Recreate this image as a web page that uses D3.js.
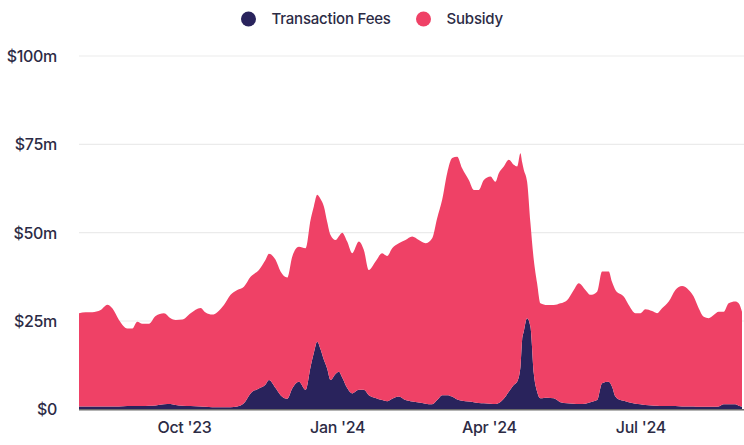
<!DOCTYPE html>
<html>
<head>
<meta charset="utf-8">
<script src="https://cdn.jsdelivr.net/npm/d3@7"></script>
<style>
  html, body { margin: 0; padding: 0; background: #fff; }
  svg { display: block; }
  text { font-family: Inter, "Noto Sans", sans-serif; fill: #2c2b45; }
</style>
</head>
<body>
<svg id="chart" width="744" height="445"></svg>
<script>
const dates = ["2023-07-30","2023-08-03","2023-08-07","2023-08-12","2023-08-16","2023-08-19","2023-08-23","2023-08-28","2023-08-31",
"2023-09-03","2023-09-06","2023-09-10","2023-09-14","2023-09-19","2023-09-23","2023-09-26","2023-09-30",
"2023-10-05","2023-10-11","2023-10-14","2023-10-18","2023-10-21","2023-10-25","2023-10-29",
"2023-11-02","2023-11-06","2023-11-10","2023-11-15","2023-11-19","2023-11-21","2023-11-25","2023-11-28",
"2023-12-02","2023-12-05","2023-12-09","2023-12-13","2023-12-16","2023-12-18","2023-12-20","2023-12-22","2023-12-24","2023-12-26","2023-12-28","2023-12-31",
"2024-01-02","2024-01-04","2024-01-07","2024-01-10","2024-01-14","2024-01-17","2024-01-20","2024-01-24","2024-01-28","2024-01-31",
"2024-02-03","2024-02-07","2024-02-11","2024-02-15","2024-02-19","2024-02-23","2024-02-27",
"2024-03-01","2024-03-04","2024-03-07","2024-03-10","2024-03-13","2024-03-16","2024-03-20","2024-03-23","2024-03-26","2024-03-29",
"2024-04-02","2024-04-05","2024-04-07","2024-04-10","2024-04-13","2024-04-16","2024-04-18","2024-04-20","2024-04-21","2024-04-22","2024-04-24","2024-04-26","2024-04-28","2024-04-30",
"2024-05-02","2024-05-06","2024-05-10","2024-05-14","2024-05-18","2024-05-22","2024-05-25","2024-05-29",
"2024-06-01","2024-06-05","2024-06-08","2024-06-12","2024-06-14","2024-06-16","2024-06-19","2024-06-21","2024-06-24","2024-06-28",
"2024-07-01","2024-07-04","2024-07-08","2024-07-11","2024-07-14","2024-07-18","2024-07-22","2024-07-26","2024-07-30",
"2024-08-02","2024-08-05","2024-08-08","2024-08-11","2024-08-14","2024-08-17","2024-08-20","2024-08-23","2024-08-27","2024-08-29","2024-08-31"];

// Transaction fees, $m
const fees = [0.8,0.8,0.8,0.8,0.8,0.8,0.8,0.9,0.9,
0.9,0.9,1.0,1.1,1.4,1.5,1.2,1.0,
0.9,0.8,0.7,0.6,0.6,0.6,0.6,
0.8,1.7,4.5,5.9,7.0,8.3,6.0,4.0,
3.0,5.9,7.8,5.5,12.0,16.0,19.1,17.0,14.0,11.5,8.3,10.0,
10.6,9.0,6.0,4.5,5.5,5.5,4.0,3.2,2.6,2.3,
3.0,3.6,2.6,2.2,1.9,1.6,1.4,
2.6,4.0,4.0,3.6,2.8,2.4,2.2,2.0,1.8,1.7,
1.6,1.5,1.8,3.0,5.0,6.9,7.8,12.0,19.6,22.0,25.8,23.4,10.2,5.0,
3.1,3.3,3.1,2.0,1.7,1.6,1.5,1.6,
2.0,2.6,7.4,7.8,6.4,3.6,2.6,2.4,2.0,1.6,
1.4,1.2,1.1,1.0,0.9,0.9,0.9,0.8,0.8,
0.8,0.7,0.7,0.7,0.7,0.8,1.4,1.4,1.4,1.0,0.7];

// Block subsidy, $m
const subsidy = [26.4,26.7,26.7,27.3,28.8,27.8,24.5,22.0,22.0,
23.9,23.3,23.2,25.3,25.8,24.3,24.1,24.4,
26.3,27.9,26.7,26.2,26.9,28.9,31.8,
33.0,33.0,33.0,33.5,35.3,35.7,36.3,35.0,
34.3,37.3,38.2,40.1,41.6,41.5,41.6,42.5,43.4,41.5,41.0,37.9,
38.4,41.0,41.5,39.7,42.0,39.6,35.4,38.6,41.6,41.1,
42.6,43.4,45.3,46.7,46.0,45.4,47.0,
51.5,55.3,62.8,67.5,68.7,65.8,62.7,60.1,60.3,63.2,
64.3,62.9,65.0,65.7,65.6,62.3,60.9,60.5,50.4,45.8,38.6,29.3,32.1,30.7,
26.9,26.2,26.4,28.0,29.2,32.2,34.2,32.2,
30.4,30.7,31.6,31.2,29.6,30.2,30.0,29.5,27.5,25.6,
25.8,27.1,26.7,26.2,27.7,29.6,32.9,34.1,33.0,
31.1,27.9,25.5,25.1,26.0,26.8,26.2,28.6,29.1,29.0,26.9];

const seriesNames = ["Transaction Fees", "Subsidy"];
const seriesColors = ["#29235c", "#ef4166"];
const yTicks = [0, 25, 50, 75, 100];
const xTickDates = ["2023-10-01", "2024-01-01", "2024-04-01", "2024-07-01"];
const xTickLabels = ["Oct '23", "Jan '24", "Apr '24", "Jul '24"];

const svg = d3.select("#chart");
const parse = d3.utcParse("%Y-%m-%d");
const rows = dates.map((d, i) => ({ date: parse(d), fees: fees[i], subsidy: subsidy[i] }));

const x = d3.scaleUtc()
  .domain([parse("2023-07-30"), parse("2024-08-31")])
  .range([79, 742]);
const y = d3.scaleLinear().domain([0, 100]).range([409.3, 56]);

// gridlines
svg.append("g").selectAll("line").data(yTicks.filter(t => t > 0)).join("line")
  .attr("x1", 79).attr("x2", 744)
  .attr("y1", d => y(d)).attr("y2", d => y(d))
  .attr("stroke", "#ebebeb").attr("stroke-width", 1.2);

const stack = d3.stack().keys(["fees", "subsidy"]);
const layers = stack(rows);
const area = d3.area()
  .x(d => x(d.data.date))
  .y0(d => y(d[0]))
  .y1(d => y(d[1]))
  .curve(d3.curveMonotoneX);

svg.append("g").selectAll("path").data(layers).join("path")
  .attr("d", area)
  .attr("fill", (d, i) => seriesColors[i]);

// baseline
svg.append("line")
  .attr("x1", 79).attr("x2", 744)
  .attr("y1", y(0) + 0.5).attr("y2", y(0) + 0.5)
  .attr("stroke", "#6b6b6b").attr("stroke-width", 1.5);

// y axis
const yAxis = d3.axisLeft(y).tickValues(yTicks)
  .tickFormat(d => d === 0 ? "$0" : "$" + d + "m")
  .tickSize(0).tickPadding(0);
const yg = svg.append("g").attr("transform", "translate(57,0)").call(yAxis);
yg.select(".domain").remove();
yg.selectAll("text").attr("font-size", 16).attr("font-weight", 500).attr("font-family", "Inter, sans-serif")
  .attr("fill", "#2c2b45").attr("dy", "0.35em").attr("letter-spacing", "-0.3");

// x axis
const xAxis = d3.axisBottom(x).tickValues(xTickDates.map(parse))
  .tickFormat((d, i) => xTickLabels[i]).tickSize(0).tickPadding(0);
const xg = svg.append("g").attr("transform", "translate(0,427)").call(xAxis);
xg.select(".domain").remove();
xg.selectAll("text").attr("font-size", 16).attr("font-weight", 500).attr("font-family", "Inter, sans-serif")
  .attr("fill", "#2c2b45").attr("dy", "0.35em").attr("letter-spacing", "-0.3");

// legend
const legendX = [248.5, 423.5];
const lg = svg.append("g");
seriesNames.forEach((name, i) => {
  lg.append("circle").attr("cx", legendX[i]).attr("cy", 19).attr("r", 7.5).attr("fill", seriesColors[i]);
  lg.append("text").attr("x", legendX[i] + 23).attr("y", 19).attr("dy", "0.35em")
    .attr("font-size", 15).attr("font-weight", 500).attr("letter-spacing", "-0.2").text(name);
});
</script>
</body>
</html>
